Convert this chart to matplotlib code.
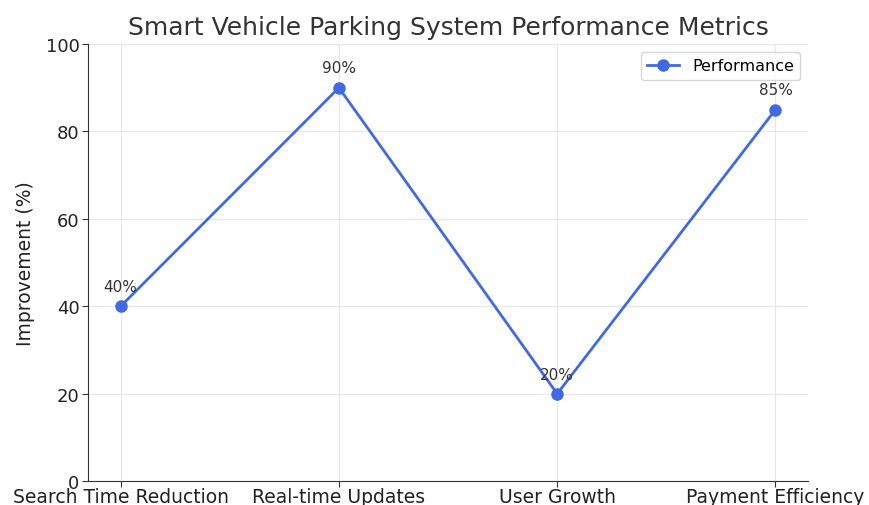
import matplotlib
matplotlib.use("Agg")
import matplotlib.pyplot as plt

categories = ["Search Time Reduction", "Real-time Updates", "User Growth", "Payment Efficiency"]
values = [40, 90, 20, 85]
labels = ["40%", "90%", "20%", "85%"]
yticks = [0, 20, 40, 60, 80, 100]

fig = plt.figure(figsize=(8.7, 5.06), dpi=100)
ax = fig.add_axes([0.101, 0.047, 0.828, 0.864])

ax.plot(range(len(categories)), values, marker="o", color="royalblue",
        linewidth=2, markersize=8, label="Performance")
for i, (v, t) in enumerate(zip(values, labels)):
    ax.annotate(t, (i, v), textcoords="offset points", xytext=(0, 11),
                ha="center", fontsize=11, color="#333333")

ax.set_xticks(range(len(categories)))
ax.set_xticklabels(categories, fontsize=13.5, color="#222222")
ax.set_yticks(yticks)
ax.tick_params(axis="y", labelsize=13, colors="#222222", pad=2)
ax.tick_params(axis="x", pad=0)
ax.set_ylim(0, 100)
ax.set_xlim(-0.15, 3.15)
ax.set_ylabel("Improvement (%)", fontsize=13.5, color="#222222", labelpad=8)
ax.set_title("Smart Vehicle Parking System Performance Metrics", fontsize=18, color="#333333", pad=7)
ax.grid(True, color="#e6e6e6", linewidth=0.8)
ax.set_axisbelow(True)
for s in ["top", "right"]:
    ax.spines[s].set_visible(False)
for s in ["left", "bottom"]:
    ax.spines[s].set_color("#333333")
ax.tick_params(axis="both", length=4, color="#333333")
ax.legend(loc="upper right", fontsize=11.5, frameon=True)

fig.savefig("out.png", dpi=100)
